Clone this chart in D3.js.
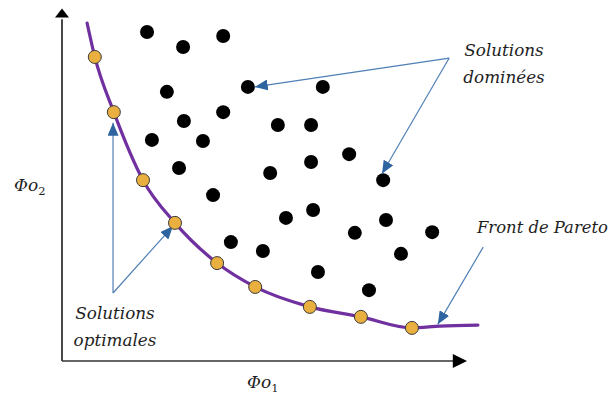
<!DOCTYPE html>
<html><head><meta charset="utf-8">
<script src="https://cdn.jsdelivr.net/npm/d3@7"></script>
<style>html,body{margin:0;padding:0;background:#fff;} svg{display:block;}</style>
</head><body>
<script>
// Dominated solutions (black points), in objective units (0-100)
const dominatedX = [21.0,29.9,39.8,25.9,45.9,64.4,30.1,39.8,53.3,61.5,22.2,34.8,61.5,70.9,28.9,51.4,79.3,37.3,62.0,55.3,72.3,80.0,91.4,41.7,49.6,83.7,63.2,75.8];
const dominatedY = [92.4,88.2,91.3,75.6,77.0,77.0,67.4,69.9,66.3,66.3,62.1,61.8,55.9,58.1,54.2,52.8,50.8,46.6,42.4,40.2,36.0,39.6,36.2,33.4,30.9,30.1,25.0,19.9];
// Optimal solutions (orange points on the Pareto front)
const optimalX = [8.1,12.8,20.0,27.9,38.3,47.7,61.2,73.8,86.4];
const optimalY = [85.4,69.9,50.8,38.8,27.5,20.8,15.2,12.4,9.3];
// Pareto front curve
const frontX = [6.2,8.1,12.8,20.0,27.9,38.3,47.7,61.2,73.8,86.4,93.3,102.7];
const frontY = [94.9,85.4,69.9,50.8,38.8,27.5,20.8,15.2,12.4,9.3,9.8,10.1];
// Annotations
const axisLabels = ["Φo", "Φo"];
const axisSubs = ["2", "1"];
const noteDominated = ["Solutions", "dominées"];
const noteOptimal = ["Solutions", "optimales"];
const noteFront = "Front de Pareto";
// arrows [x1,y1,x2,y2] in data units
const arrows = [
  [95.6,85.1,47.6,77.0],
  [95.6,85.1,79.0,52.6],
  [12.6,19.1,12.6,66.9],
  [12.6,19.1,27.4,37.9],
  [104.0,32.0,92.8,10.3]
];

const W = 611, H = 396;
const svg = d3.select("body").append("svg").attr("width", W).attr("height", H);
const x = d3.scaleLinear().domain([0,100]).range([62,467]);
const y = d3.scaleLinear().domain([0,100]).range([361,5]);

const defs = svg.append("defs");
defs.append("marker").attr("id","blueArrow")
  .attr("viewBox","0 0 13 11").attr("refX",13).attr("refY",5.5)
  .attr("markerWidth",13).attr("markerHeight",11)
  .attr("markerUnits","userSpaceOnUse").attr("orient","auto")
  .append("path").attr("d","M0,0 L13,5.5 L0,11 Z").attr("fill","#2E64A0");

// Axes
const axisColor = "#1a1a1a";
svg.append("line").attr("x1", x(0)).attr("y1", y(0)).attr("x2", x(0)).attr("y2", y(96))
  .attr("stroke", axisColor).attr("stroke-width", 1.6);
svg.append("line").attr("x1", x(0)).attr("y1", y(0)).attr("x2", x(97)).attr("y2", y(0))
  .attr("stroke", "#333").attr("stroke-width", 1.6);
// arrowheads
svg.append("path").attr("d", `M${x(0)-7},${y(96.5)} L${x(0)+7},${y(96.5)} L${x(0)},${y(99)} Z`).attr("fill", "#000");
svg.append("path").attr("d", `M${x(96.5)},${y(0)-7} L${x(96.5)},${y(0)+7} L${x(100)},${y(0)} Z`).attr("fill", "#000");

// Pareto front
const line = d3.line().x(d => x(d[0])).y(d => y(d[1])).curve(d3.curveMonotoneX);
svg.append("path").datum(frontX.map((v,i)=>[v, frontY[i]]))
  .attr("d", line).attr("fill","none").attr("stroke","#7030A0").attr("stroke-width",3.2)
  .attr("stroke-linecap","round");

// Dominated points
svg.append("g").selectAll("circle").data(dominatedX.map((v,i)=>[v, dominatedY[i]]))
  .join("circle").attr("cx", d=>x(d[0])).attr("cy", d=>y(d[1])).attr("r", 7).attr("fill","#000");

// Arrows
svg.append("g").selectAll("line").data(arrows).join("line")
  .attr("x1", d=>x(d[0])).attr("y1", d=>y(d[1])).attr("x2", d=>x(d[2])).attr("y2", d=>y(d[3]))
  .attr("stroke","#4F7FB5").attr("stroke-width",1.2).attr("marker-end","url(#blueArrow)");

// Optimal points
svg.append("g").selectAll("circle").data(optimalX.map((v,i)=>[v, optimalY[i]]))
  .join("circle").attr("cx", d=>x(d[0])).attr("cy", d=>y(d[1])).attr("r", 6.5)
  .attr("fill","#EAB03F").attr("stroke","#3a3a3a").attr("stroke-width",1);

// Texts
const tf = "'DejaVu Serif', serif";
function note(lines, cx, by, gap) {
  const t = svg.append("text").attr("font-family", tf).attr("font-style","italic")
    .attr("font-size", 16.8).attr("fill","#1e1e1e").attr("text-anchor","middle");
  lines.forEach((s,i)=> t.append("tspan").attr("x", cx).attr("y", by + i*gap).text(s));
}
note(noteDominated, 504, 56, 27);
note(noteOptimal, 115, 319, 27);
svg.append("text").attr("x", 477).attr("y", 233).attr("font-family", tf).attr("font-style","italic")
  .attr("font-size", 16.4).attr("fill","#1e1e1e").text(noteFront);

function axisLabel(lbl, sub, lx, ly) {
  const t = svg.append("text").attr("x", lx).attr("y", ly).attr("font-family", tf)
    .attr("font-style","italic").attr("font-size", 17).attr("fill","#1e1e1e");
  t.append("tspan").text(lbl);
  t.append("tspan").attr("dy", 4).attr("font-size", 11.5).attr("font-style","normal").text(sub);
}
axisLabel(axisLabels[0], axisSubs[0], 14, 191);
axisLabel(axisLabels[1], axisSubs[1], 247, 388);
</script>
</body></html>
